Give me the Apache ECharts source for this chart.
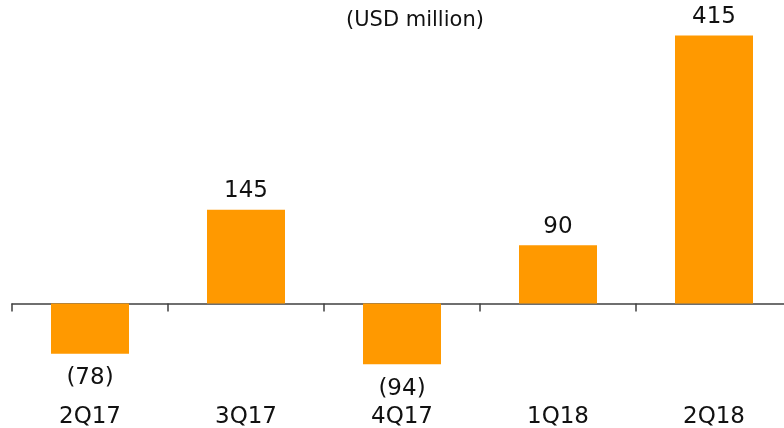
<!DOCTYPE html>
<html>
<head>
<meta charset="utf-8">
<script src="https://cdn.jsdelivr.net/npm/echarts@6/dist/echarts.min.js"></script>
<style>
  html, body { margin: 0; padding: 0; background: #fff; }
  #chart { width: 784px; height: 428px; }
</style>
</head>
<body>
<div id="chart"></div>
<script>
const categories = ['2Q17', '3Q17', '4Q17', '1Q18', '2Q18']
const values = [-78, 145, -94, 90, 415]
const unitLabel = '(USD million)'

const chart = echarts.init(document.getElementById('chart'))

// negative values get parentheses and sit under the bar
const barData = values.map(v => ({
  value: v,
  label: v < 0 ? { position: 'bottom', distance: 13 } : { position: 'top', distance: 7 }
}))

const option = {
  animation: false,
  textStyle: { fontFamily: 'DejaVu Sans' },
  title: {
    text: unitLabel,
    left: 341,
    top: 5,
    textStyle: { fontSize: 21, fontWeight: 'normal', color: '#111', fontFamily: 'DejaVu Sans' }
  },
  grid: { left: 12, right: -8, top: 13, height: 355, outerBoundsMode: 'none', containLabel: false },
  xAxis: {
    type: 'category',
    data: categories,
    axisLine: { show: true, lineStyle: { color: '#404040', width: 1.5 } },
    axisTick: { show: true, length: 8, lineStyle: { color: '#404040', width: 1.5 } },
    // labels are placed from the grid bottom, not the zero line
    axisLabel: { margin: 38, fontSize: 23, color: '#111', fontFamily: 'DejaVu Sans' }
  },
  yAxis: {
    type: 'value',
    min: -100,
    max: 450,
    show: false,
    splitLine: { show: false }
  },
  series: [{
    type: 'bar',
    data: barData,
    barWidth: '50%',
    itemStyle: { color: '#ff9900' },
    label: {
      show: true,
      fontSize: 23,
      color: '#111',
      fontFamily: 'DejaVu Sans',
      formatter: p => p.value < 0 ? `(${-p.value})` : `${p.value}`
    }
  }]
}

chart.setOption(option)
</script>
</body>
</html>
